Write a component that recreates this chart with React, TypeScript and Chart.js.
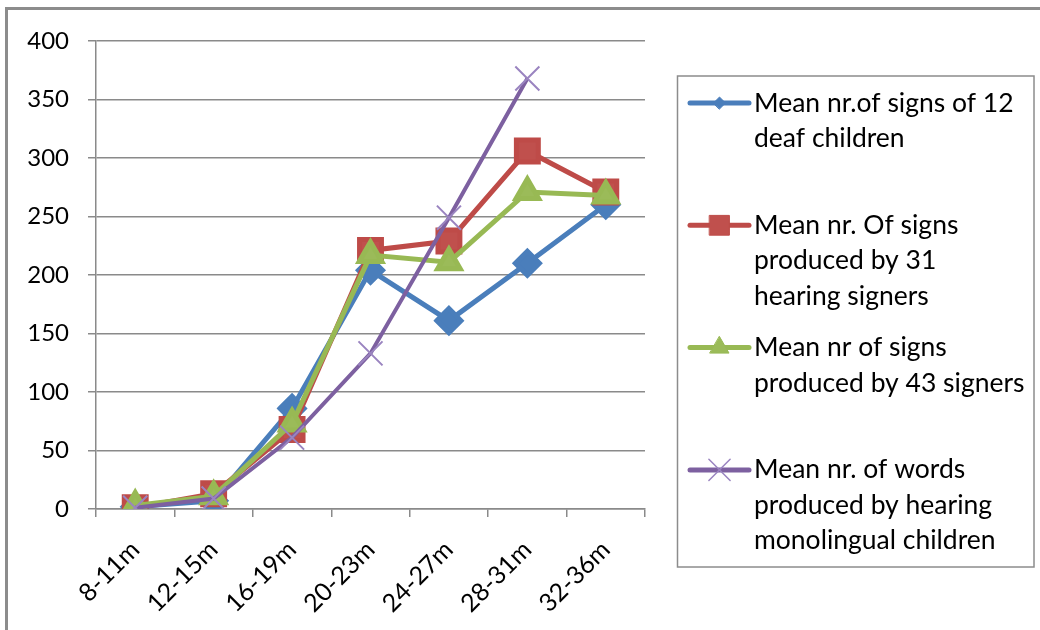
import React, { useEffect, useRef } from "react";
import { Chart, registerables } from "chart.js";
import { drawPoint } from "chart.js/helpers";

Chart.register(...registerables);

const categories = ["8-11m", "12-15m", "16-19m", "20-23m", "24-27m", "28-31m", "32-36m"];
const deafChildren = [2, 7, 86, 204, 161, 210, 260];
const hearingSigners31 = [1, 13, 68, 221, 229, 306, 271];
const signers43 = [3, 11, 73, 217, 211, 271, 268];
const monolingualWords = [1, 9, 61, 133, 249, 368, null];
const yTicks = [0, 50, 100, 150, 200, 250, 300, 350, 400];

const legendLabels = [
  ["Mean nr.of signs of 12", "deaf children"],
  ["Mean nr. Of signs", "produced by 31", "hearing signers"],
  ["Mean nr of signs", "produced by 43 signers"],
  ["Mean nr. of words", "produced by hearing", "monolingual children"],
];

const FONT = "Lato, 'Open Sans', sans-serif";
const GRID = "#8a8a8a";

const legendMarkers = [
  { pointStyle: "rectRot", radius: 6, borderWidth: 1 },
  { pointStyle: "rect", radius: 14, borderWidth: 1 },
  { pointStyle: "triangle", radius: 11, borderWidth: 1 },
  { pointStyle: "crossRot", radius: 15, borderWidth: 1.5 },
];

const customLegend = {
  id: "customLegend",
  afterDraw(chart: any) {
    const ctx = chart.ctx;
    ctx.save();
    // outer frame (top and left)
    ctx.fillStyle = "#8c8c8c";
    ctx.fillRect(5, 7, 1035, 3);
    ctx.fillRect(5, 7, 3, 623);
    // legend box
    ctx.strokeStyle = "#8c8c8c";
    ctx.lineWidth = 1.5;
    ctx.strokeRect(677.5, 76, 356.5, 491);
    ctx.font = `26.5px ${FONT}`;
    ctx.textBaseline = "middle";
    ctx.textAlign = "left";
    chart.data.datasets.forEach((ds: any, i: number) => {
      const y0 = 103 + i * 122.3;
      ctx.strokeStyle = ds.borderColor;
      ctx.lineWidth = 5;
      ctx.lineCap = "round";
      ctx.beginPath();
      ctx.moveTo(690, y0);
      ctx.lineTo(749, y0);
      ctx.stroke();
      const m = legendMarkers[i];
      ctx.fillStyle = ds.pointBackgroundColor;
      ctx.strokeStyle = ds.pointBorderColor;
      ctx.lineWidth = m.borderWidth;
      drawPoint(ctx, { pointStyle: m.pointStyle, radius: m.radius, rotation: 0, borderWidth: m.borderWidth }, 719.5, y0);
      ctx.fillStyle = "#000";
      legendLabels[i].forEach((line, j) => {
        ctx.fillText(line, 754, y0 + j * 35.5);
      });
    });
    ctx.restore();
  },
};

export default function App() {
  const ref = useRef<HTMLCanvasElement | null>(null);
  useEffect(() => {
    if (!ref.current) return;
    const chart = new Chart(ref.current, {
      type: "line",
      data: {
        labels: categories,
        datasets: [
          {
            label: legendLabels[0].join(" "),
            data: deafChildren,
            borderColor: "#4a7ebb",
            backgroundColor: "#4a7ebb",
            pointBackgroundColor: "#4a7ebb",
            pointBorderColor: "#4a7ebb",
            pointStyle: "rectRot",
            pointRadius: 12,
            borderWidth: 5,
            order: 4,
          },
          {
            label: legendLabels[1].join(" "),
            data: hearingSigners31,
            borderColor: "#be4b48",
            backgroundColor: "#c0504d",
            pointBackgroundColor: "#c0504d",
            pointBorderColor: "#be4b48",
            pointStyle: "rect",
            pointRadius: 15.5,
            borderWidth: 5,
            order: 3,
          },
          {
            label: legendLabels[2].join(" "),
            data: signers43,
            borderColor: "#98b954",
            backgroundColor: "#9bbb59",
            pointBackgroundColor: "#9bbb59",
            pointBorderColor: "#98b954",
            pointStyle: "triangle",
            pointRadius: 13,
            borderWidth: 5,
            order: 2,
          },
          {
            label: legendLabels[3].join(" "),
            data: monolingualWords,
            borderColor: "#7d60a0",
            backgroundColor: "#8064a2",
            pointBackgroundColor: "#9a84c0",
            pointBorderColor: "#9a84c0",
            pointStyle: "crossRot",
            pointRadius: 17,
            pointBorderWidth: 2,
            borderWidth: 4,
            order: 1,
          },
        ],
      },
      options: {
        animation: false,
        responsive: false,
        maintainAspectRatio: false,
        layout: { padding: { left: 0, right: 395, top: 41, bottom: 0 } },
        plugins: {
          legend: { display: false },
          tooltip: { enabled: false },
        },
        elements: { line: { tension: 0 } },
        scales: {
          x: {
            type: "category",
            offset: true,
            grid: {
              offset: true,
              drawOnChartArea: false,
              drawTicks: true,
              tickLength: 8,
              color: GRID,
              lineWidth: 1.5,
            },
            border: { display: true, color: GRID, width: 1.5 },
            ticks: {
              color: "#000",
              font: { family: FONT, size: 25 },
              maxRotation: 45,
              minRotation: 45,
              padding: 18,
              autoSkip: false,
            },
            afterFit(scale: any) {
              scale.height = 121;
            },
          },
          y: {
            min: 0,
            max: 400,
            afterBuildTicks(scale: any) {
              scale.ticks = yTicks.map((v) => ({ value: v }));
            },
            grid: {
              color: GRID,
              lineWidth: 1.5,
              tickLength: 8,
            },
            border: { display: true, color: GRID, width: 1.5 },
            ticks: {
              color: "#000",
              font: { family: FONT, size: 24 },
              padding: 19,
            },
            afterFit(scale: any) {
              scale.width = 96;
            },
          },
        },
      },
      plugins: [customLegend],
    });
    return () => chart.destroy();
  }, []);
  return (
    <div style={{ position: "absolute", left: 0, top: 0, width: 1040, height: 630, background: "#fff" }}>
      <canvas ref={ref} width={1040} height={630} style={{ width: 1040, height: 630, display: "block" }} />
    </div>
  );
}
